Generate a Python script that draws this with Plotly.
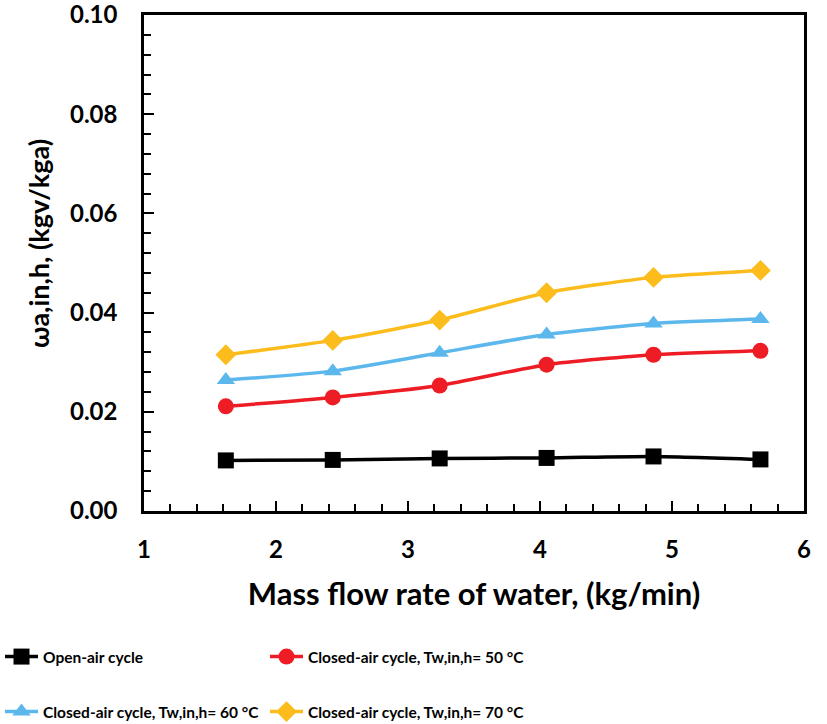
import plotly.graph_objects as go

# mass flow rate of water (kg/min)
flow = [1.62, 2.43, 3.24, 4.05, 4.86, 5.67]

open_air = [0.0102, 0.0103, 0.0106, 0.0107, 0.0110, 0.0104]
closed_50 = [0.0211, 0.0229, 0.0253, 0.0295, 0.0315, 0.0323]
closed_60 = [0.0264, 0.0282, 0.0319, 0.0356, 0.0378, 0.0387]
closed_70 = [0.0315, 0.0344, 0.0385, 0.0440, 0.0471, 0.0485]

names = [
    "Open-air cycle",
    "Closed-air cycle, Tw,in,h= 50 °C",
    "Closed-air cycle, Tw,in,h= 60 °C",
    "Closed-air cycle, Tw,in,h= 70 °C",
]
colors = ["#000000", "#ee1c25", "#5cb8ec", "#fbbc1c"]
symbols = ["square", "circle", "triangle-up", "diamond"]
sizes = [16, 16, 16, 16]
legend_ids = ["legend", "legend2", "legend3", "legend4"]

FONT = "Lato"
W, H = 827, 724

fig = go.Figure()
for name, ys, col, sym, sz, lg in zip(names, [open_air, closed_50, closed_60, closed_70],
                                      colors, symbols, sizes, legend_ids):
    fig.add_trace(go.Scatter(
        x=flow, y=ys, name=name, mode="lines+markers", legend=lg, showlegend=True,
        line=dict(color=col, width=3.5, shape="spline", smoothing=0.6),
        marker=dict(symbol=sym, size=sz, color=col),
    ))

axis_common = dict(
    showline=True, linecolor="black", linewidth=2.5, mirror=True,
    ticks="inside", tickcolor="black", tickwidth=2, ticklen=10,
    showgrid=False, zeroline=False, automargin=False,
    ticklabeloverflow="allow",
    tickfont=dict(family=FONT, size=24, color="black", weight="bold"),
)

fig.update_xaxes(
    range=[1, 6], dtick=1, tick0=1,
    minor=dict(dtick=0.2, ticks="inside", ticklen=7, tickwidth=2, tickcolor="black"),
    ticklabelstandoff=15,
    title=dict(text="Mass flow rate of water, (kg/min)", standoff=22,
               font=dict(family=FONT, size=31, color="black", weight="bold")),
    **axis_common,
)
fig.update_yaxes(
    range=[0, 0.1], dtick=0.02, tick0=0, tickformat=".2f",
    minor=dict(dtick=0.004, ticks="inside", ticklen=7, tickwidth=2, tickcolor="black"),
    ticklabelstandoff=19,
    **axis_common,
)

# y title as a rotated annotation so it can sit a bit above the middle, like the original
fig.add_annotation(
    text="ωa,in,h, (kgv/kga)", textangle=-90, showarrow=False,
    xref="paper", yref="paper", x=(38 - 144) / 660, y=(511 - 244) / 496,
    xanchor="center", yanchor="middle",
    font=dict(family=FONT, size=27, color="black", weight="bold"),
)

# one legend per entry, laid out as a 2x2 grid under the plot
leg_pos = [(0, 657), (265, 657), (0, 712), (265, 712)]
legends = {}
for lg, (px_x, px_y) in zip(legend_ids, leg_pos):
    legends[lg] = dict(
        xref="container", yref="container",
        x=px_x / W, y=(H - px_y) / H, xanchor="left", yanchor="middle",
        itemwidth=33, bgcolor="rgba(0,0,0,0)",
        font=dict(family=FONT, size=15.5, color="black", weight="bold"),
    )

fig.update_layout(
    width=W, height=H, showlegend=True,
    margin=dict(l=144, r=23, t=15, b=213, autoexpand=False),
    plot_bgcolor="white", paper_bgcolor="white",
    font=dict(family=FONT, color="black"),
    **legends,
)

# page margin would push the figure 8px right/down
fig.write_html("out.html", config={"displayModeBar": False},
               post_script="document.body.style.margin = '0';")
